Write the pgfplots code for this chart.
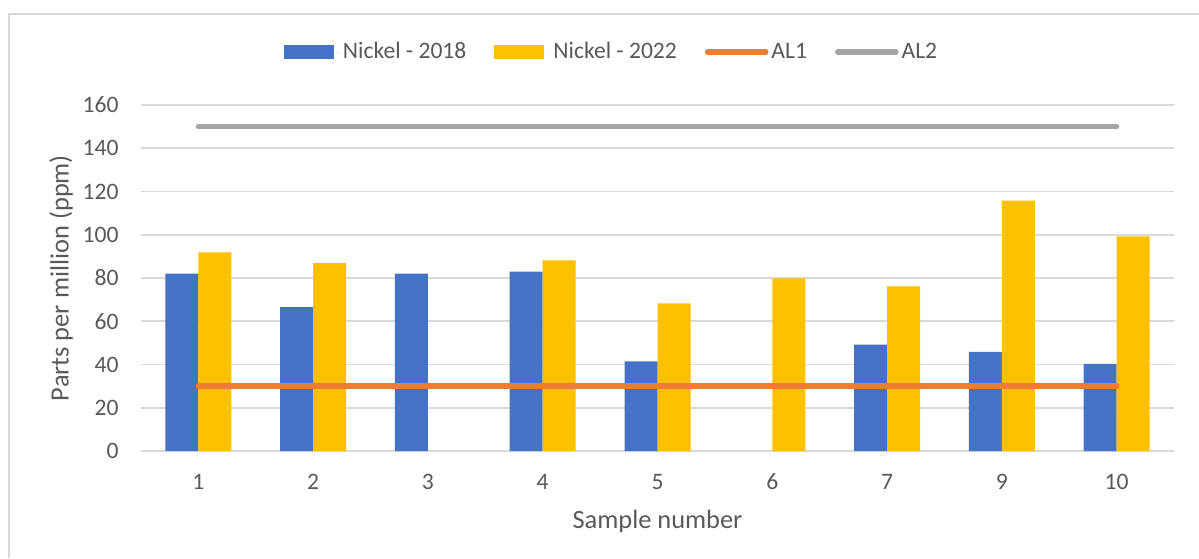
\documentclass[border=0pt]{standalone}
\usepackage{fontspec}
\setmainfont{Carlito}
\usepackage{pgfplots}
\pgfplotsset{compat=1.18}
\definecolor{c18}{HTML}{4472C4}
\definecolor{c22}{HTML}{FFC000}
\definecolor{al1}{HTML}{ED7D31}
\definecolor{al2}{HTML}{A5A5A5}
\definecolor{gridc}{HTML}{D9D9D9}
\definecolor{txt}{HTML}{595959}
\begin{document}
\begin{tikzpicture}
\useasboundingbox (0,0) rectangle (599.5pt,279pt);
\draw[gridc, line width=1pt] (4.5pt,0pt) -- (4.5pt,272pt) -- (599.5pt,272pt);
\begin{axis}[
  at={(70.5pt,53.5pt)}, anchor=south west,
  scale only axis, width=516.5pt, height=173pt,
  xmin=-0.5, xmax=8.5, ymin=0, ymax=160,
  xtick={0,...,8}, xticklabels={1,2,3,4,5,6,7,9,10},
  ytick={0,20,...,160},
  /pgf/number format/assume math mode=true,
  ymajorgrids, grid style={gridc, line width=0.85pt},
  axis line style={draw=none},
  tick style={draw=none}, major tick length=0pt,
  ticklabel style={font=\fontsize{11.8}{13}\selectfont, text=txt},
  yticklabel style={anchor=east, inner sep=0pt, xshift=-11pt},
  xticklabel style={anchor=center, inner sep=0pt, yshift=-15.5pt},
  xlabel={Sample number}, ylabel={Parts per million (ppm)},
  label style={font=\fontsize{13.2}{15}\selectfont, text=txt},
  xlabel style={at={(axis description cs:0.5,-0.2023)}, anchor=center},
  ylabel style={at={(axis description cs:-0.0774,0.5)}, anchor=center},
  legend columns=4,
  legend style={draw=none, fill=none, at={(axis description cs:0.456,1.153)}, anchor=center,
    font=\fontsize{11.8}{13}\selectfont, text=txt, inner sep=0pt,
    nodes={inner sep=1.5pt},
    /tikz/every even column/.append style={column sep=12.5pt}},
  legend cell align=left,
  clip=false,
]
\addplot[ybar, bar width=16.5pt, bar shift=-8.25pt, fill=c18, draw=none,
  legend image code/.code={\fill[c18] (0pt,-3.5pt) rectangle (25pt,3.5pt); \path (0pt,0pt) -- (28pt,0pt);}]
  coordinates {(0,82) (1,66.5) (2,82) (3,83) (4,41.5) (6,49.2) (7,45.8) (8,40.3)};
\addlegendentry{Nickel - 2018}
\addplot[ybar, bar width=16.5pt, bar shift=8.25pt, fill=c22, draw=none,
  legend image code/.code={\fill[c22] (0pt,-3.5pt) rectangle (25pt,3.5pt); \path (0pt,0pt) -- (28pt,0pt);}]
  coordinates {(0,91.8) (1,86.9) (3,88.1) (4,68.3) (5,79.8) (6,76.1) (7,115.8) (8,99.2)};
\addlegendentry{Nickel - 2022}
\addplot[al1, line width=2.8pt, line cap=round,
  legend image code/.code={\draw[al1, line width=2.8pt, line cap=round] (1.5pt,0pt) -- (26pt,0pt); \path (0pt,0pt) -- (29pt,0pt);}]
  coordinates {(0,30) (8,30)};
\addlegendentry{AL1}
\addplot[al2, line width=2.8pt, line cap=round,
  legend image code/.code={\draw[al2, line width=2.8pt, line cap=round] (1.5pt,0pt) -- (26pt,0pt); \path (0pt,0pt) -- (29pt,0pt);}]
  coordinates {(0,150) (8,150)};
\addlegendentry{AL2}
\end{axis}
\end{tikzpicture}
\end{document}
